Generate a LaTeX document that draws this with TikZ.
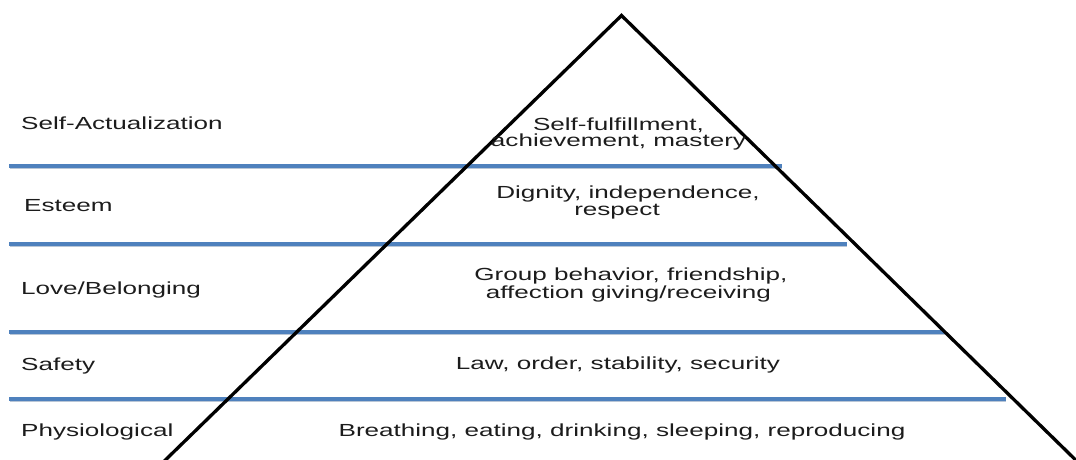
\documentclass[tikz,border=0pt]{standalone}
\usepackage{fontspec}
\setmainfont{Liberation Sans}
\definecolor{levelblue}{RGB}{79,129,189}
\definecolor{levelshade}{RGB}{185,198,214}
\definecolor{txt}{RGB}{28,28,28}
% horizontally widened text, as set in the chart
\newcommand\widetext[1]{\scalebox{1.49}[1]{#1}}
\begin{document}
\begin{tikzpicture}[x=1pt,y=-1pt,
  lvl/.style={draw=levelblue, line width=3.4pt},
  lvlshade/.style={draw=levelshade, line width=1.2pt},
  edge/.style={draw=black, line width=3.3pt, line join=miter},
  lbl/.style={anchor=base west, inner sep=0pt, text=txt, font=\fontsize{17.5}{17.5}\selectfont},
  desc/.style={anchor=base, inner sep=0pt, text=txt, font=\fontsize{17.5}{17.5}\selectfont},
]
\useasboundingbox (0,0) rectangle (1076,459);
\clip (0,0) rectangle (1076,459);

% level separators
\foreach \y/\xe in {166/782, 244/847, 332/945, 399/1006} {
  \draw[lvlshade] (10,\y+2.6) -- (\xe,\y+2.6);
  \draw[lvl] (9,\y) -- (\xe,\y);
}

% pyramid outline
\coordinate (apex) at (621.5,15.5);
\coordinate (bl) at (150,475);
\coordinate (br) at (1091,475);
\draw[edge] (bl) -- (apex) -- (br);

% level names
\node[lbl] (sa) at (21,129) {\widetext{Self-Actualization}};
\node[lbl] (es) at (24,211) {\widetext{Esteem}};
\node[lbl] (lb) at (21,294) {\widetext{Love/Belonging}};
\node[lbl] (sf) at (21,370) {\widetext{Safety}};
\node[lbl] (ph) at (21,436) {\widetext{Physiological}};

% level descriptions
\node[desc] (d1a) at (618.5,130) {\widetext{Self-fulfillment,}};
\node[desc] (d1b) at (618.5,146) {\widetext{achievement, mastery}};
\node[desc] (d2a) at (628,198) {\widetext{Dignity, independence,}};
\node[desc] (d2b) at (617,215) {\widetext{respect}};
\node[desc] (d3a) at (631,280) {\widetext{Group behavior, friendship,}};
\node[desc] (d3b) at (628.5,298) {\widetext{affection giving/receiving}};
\node[desc] (d4) at (618,369) {\widetext{Law, order, stability, security}};
\node[desc] (d5) at (622,436) {\widetext{Breathing, eating, drinking, sleeping, reproducing}};
\end{tikzpicture}
\end{document}
